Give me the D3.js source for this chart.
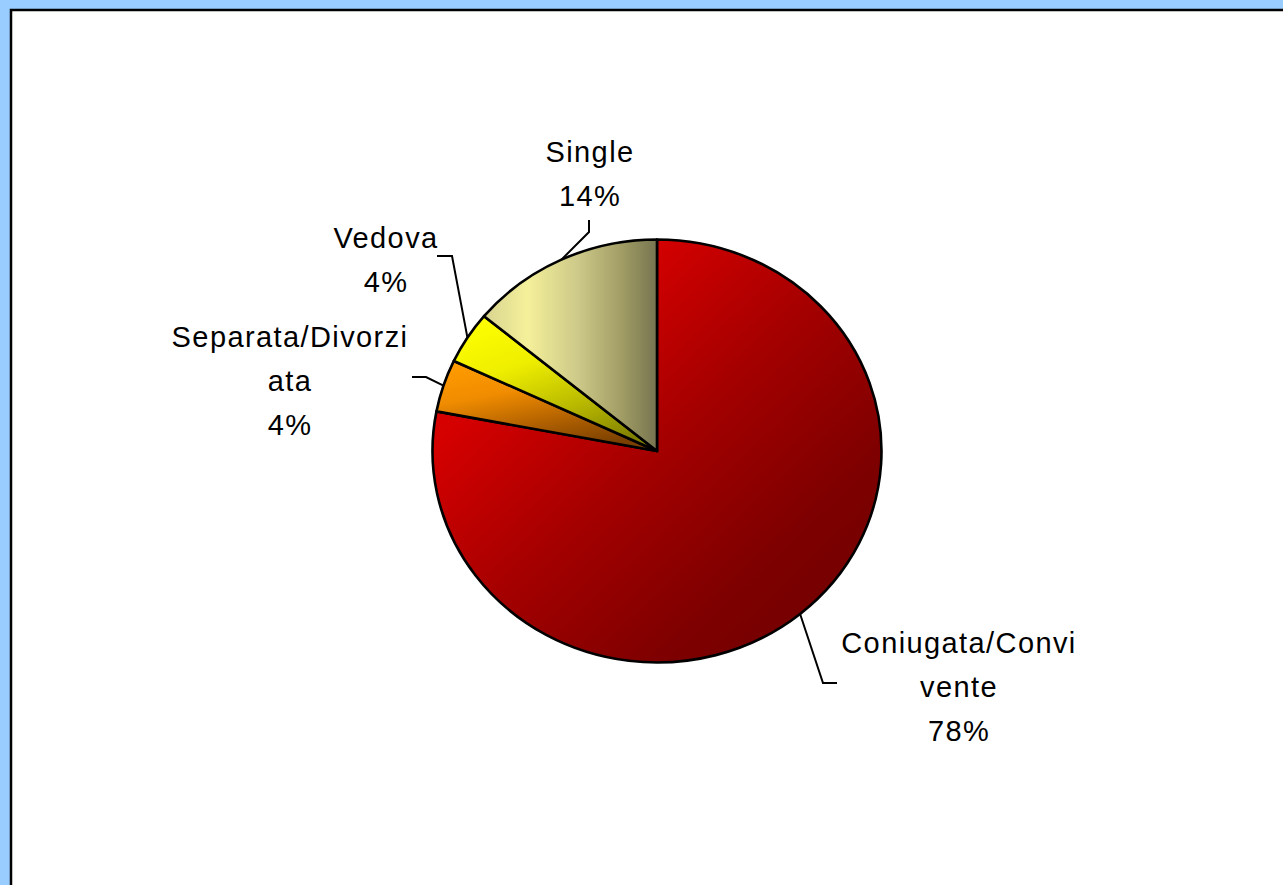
<!DOCTYPE html>
<html>
<head>
<meta charset="utf-8">
<script src="https://cdn.jsdelivr.net/npm/d3@7"></script>
<style>
  html, body { margin: 0; padding: 0; background: #99CCFF; overflow: hidden; }
  svg { display: block; }
</style>
</head>
<body>
<svg id="chart" width="1283" height="885"></svg>
<script>
// ---- data ----
const categories = ["Coniugata/Convivente", "Separata/Divorziata", "Vedova", "Single"];
const values = [78, 4, 4, 14];
const labelLines = [["Coniugata/Convi", "vente"], ["Separata/Divorzi", "ata"], ["Vedova"], ["Single"]];

// ---- layout ----
const W = 1283, H = 885;
const cx = 657, cy = 451, rx = 224.5, ry = 211.5;
const lineH = 44;
const labelPos = [
  { x: 959, y: 653 },
  { x: 290, y: 347 },
  { x: 386, y: 248 },
  { x: 590, y: 162 }
];
const leaderPts = [
  [[823, 683], [837, 683]],
  [[426, 377], [412, 377]],
  [[452, 256], [437, 256]],
  [[589, 232], [589, 220]]
];
const gradients = [
  { id: "g0", x1: 0, y1: 0, x2: 1, y2: 1, stops: [[0, "#E40000"], [0.25, "#D40000"], [0.5, "#A40000"], [0.75, "#7E0000"], [1, "#6C0000"]] },
  { id: "g1", x1: 0.15, y1: 0, x2: 0.6, y2: 1, stops: [[0, "#FF9C00"], [0.35, "#F08C00"], [0.7, "#B06000"], [1, "#7A4000"]] },
  { id: "g2", x1: 0.15, y1: 0, x2: 0.7, y2: 1, stops: [[0, "#FFFF00"], [0.35, "#EEEE00"], [0.7, "#B8B800"], [1, "#808000"]] },
  { id: "g3", x1: 0, y1: 0, x2: 1, y2: 0, stops: [[0, "#D8D490"], [0.25, "#F4F09A"], [0.55, "#CCC888"], [0.8, "#A09C64"], [1, "#767450"]] }
];

const svg = d3.select("#chart");
const defs = svg.append("defs");
gradients.forEach(g => {
  const lg = defs.append("linearGradient").attr("id", g.id)
    .attr("x1", g.x1).attr("y1", g.y1).attr("x2", g.x2).attr("y2", g.y2);
  g.stops.forEach(s => lg.append("stop").attr("offset", s[0]).attr("stop-color", s[1]));
});

// frame
svg.append("rect").attr("x", 0).attr("y", 0).attr("width", W).attr("height", H).attr("fill", "#99CCFF");
svg.append("rect").attr("x", 11).attr("y", 10).attr("width", 1300).attr("height", 900)
  .attr("fill", "#ffffff").attr("stroke", "#000").attr("stroke-width", 2.5);

const data = categories.map((c, i) => ({ cat: c, value: values[i], i }));
const total = d3.sum(values);
const pie = d3.pie().value(d => d.value).sort(null);
const arcs = pie(data);
const arc = d3.arc().innerRadius(0).outerRadius(ry);

const g = svg.append("g").attr("transform", `translate(${cx},${cy}) scale(${rx / ry},1)`);
g.selectAll("path.slice").data(arcs).enter().append("path")
  .attr("class", "slice")
  .attr("d", arc)
  .attr("fill", d => `url(#g${d.index})`)
  .attr("stroke", "#000")
  .attr("stroke-width", 2.6)
  .attr("stroke-linejoin", "round")
  .attr("vector-effect", "non-scaling-stroke");

// leader lines
const line = d3.line();
arcs.forEach(d => {
  const a = (d.startAngle + d.endAngle) / 2;
  const p0 = [cx + rx * Math.sin(a), cy - ry * Math.cos(a)];
  svg.append("path")
    .attr("d", line([p0].concat(leaderPts[d.index])))
    .attr("fill", "none").attr("stroke", "#000").attr("stroke-width", 2);
});

// labels
const pct = d3.format(".0%");
arcs.forEach(d => {
  const lines = labelLines[d.index].concat([pct(d.value / total)]);
  const t = svg.append("text")
    .attr("x", labelPos[d.index].x).attr("y", labelPos[d.index].y)
    .attr("text-anchor", "middle")
    .attr("font-family", "'Liberation Sans', Arial, sans-serif")
    .attr("font-size", 29)
    .attr("letter-spacing", "1.4px")
    .attr("fill", "#000");
  lines.forEach((s, k) => {
    t.append("tspan").attr("x", labelPos[d.index].x).attr("dy", k === 0 ? 0 : lineH).text(s);
  });
});
</script>
</body>
</html>
